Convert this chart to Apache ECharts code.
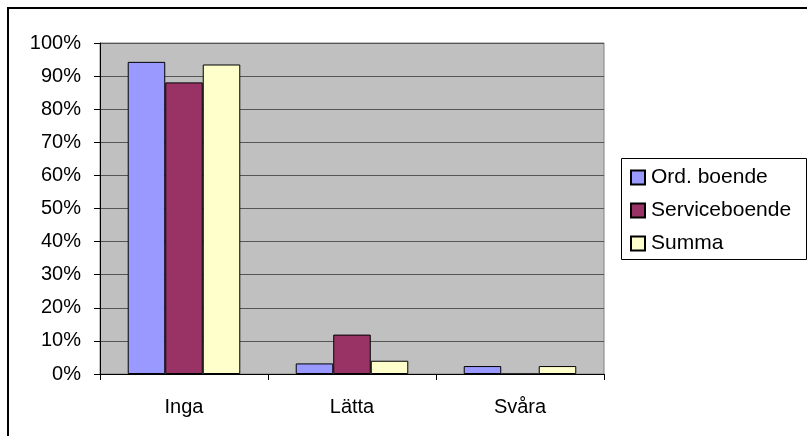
<!DOCTYPE html>
<html>
<head>
<meta charset="utf-8">
<script src="https://cdn.jsdelivr.net/npm/echarts@6/dist/echarts.min.js"></script>
<style>
  html, body { margin: 0; padding: 0; background: #fff; }
  #main { width: 807px; height: 436px; }
</style>
</head>
<body>
<div id="main"></div>
<script>
// kategorier och värden (andel i %)
const categories = ['Inga', 'Lätta', 'Svåra']
const ordBoende = [94.3, 3.2, 2.4]
const serviceBoende = [88.1, 11.9, 0]
const summa = [93.5, 4.0, 2.4]
const seriesNames = ['Ord. boende', 'Serviceboende', 'Summa']

const font = 'Liberation Sans, Arial, sans-serif'

const myChart = echarts.init(document.querySelector('#main'))

const barStyle = (color) => ({
  color: color,
  borderColor: '#000',
  borderWidth: 1
})

const option = {
  backgroundColor: '#fff',
  animation: false,
  textStyle: { fontFamily: font },
  grid: {
    left: 100,
    top: 43,
    right: 203,
    bottom: 62,
    show: true,
    backgroundColor: '#c0c0c0',
    borderColor: '#808080',
    borderWidth: 1
  },
  graphic: [
    // ytterram (höger/nederkant utanför bilden)
    {
      type: 'rect',
      shape: { x: 8, y: 8, width: 820, height: 460 },
      style: { fill: 'none', stroke: '#000', lineWidth: 2 },
      z: 100
    },
    // legendram
    {
      type: 'rect',
      shape: { x: 621.5, y: 158.5, width: 185, height: 101 },
      style: { fill: '#fff', stroke: '#000', lineWidth: 1 },
      z: 0
    }
  ],
  legend: {
    orient: 'vertical',
    left: 622,
    top: 159,
    padding: [8, 6, 5, 8],
    itemWidth: 14,
    itemHeight: 14,
    itemGap: 12,
    icon: 'rect',
    z: 10,
    textStyle: { fontSize: 21, color: '#000', fontFamily: font, padding: [0, 0, 0, 1] },
    data: seriesNames
  },
  xAxis: {
    type: 'category',
    data: categories,
    axisLine: { lineStyle: { color: '#000', width: 1 } },
    axisTick: { show: true, length: 6, alignWithLabel: false, lineStyle: { color: '#000' } },
    axisLabel: { fontSize: 20, color: '#000', margin: 23, fontFamily: font }
  },
  yAxis: {
    type: 'value',
    min: 0,
    max: 100,
    interval: 10,
    axisLine: { show: true, lineStyle: { color: '#000', width: 1 } },
    axisTick: { show: true, length: 6, lineStyle: { color: '#000' } },
    axisLabel: {
      fontSize: 20,
      color: '#000',
      margin: 19,
      fontFamily: font,
      formatter: '{value}%'
    },
    splitLine: { lineStyle: { color: '#555', width: 1 } }
  },
  series: [
    {
      name: seriesNames[0],
      type: 'bar',
      data: ordBoende,
      barGap: '0%',
      barCategoryGap: '33%',
      itemStyle: barStyle('#9999ff')
    },
    {
      name: seriesNames[1],
      type: 'bar',
      data: serviceBoende,
      itemStyle: barStyle('#993366')
    },
    {
      name: seriesNames[2],
      type: 'bar',
      data: summa,
      itemStyle: barStyle('#ffffcc')
    }
  ]
}

myChart.setOption(option)
</script>
</body>
</html>
